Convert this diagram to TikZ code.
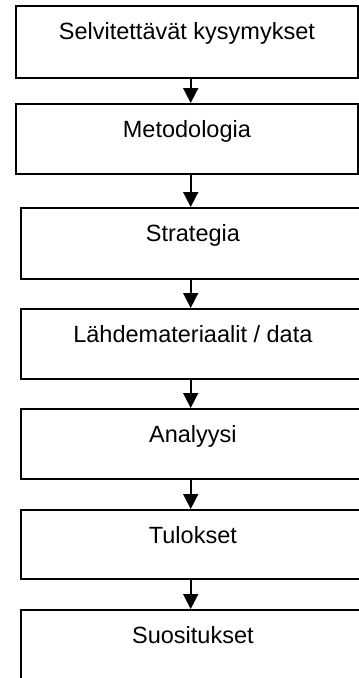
\documentclass[tikz,border=0pt]{standalone}
\usepackage{fontspec}
\setmainfont{Liberation Sans}
\usetikzlibrary{arrows.meta}
\begin{document}
\begin{tikzpicture}[x=1pt,y=-1pt,
  stagebox/.style={draw=black, line width=1.8pt, rectangle, inner sep=0pt,
    anchor=north west, font=\fontsize{23.5}{28}\selectfont, text height=34pt},
  flow/.style={draw=black, line width=1.6pt,
    -{Triangle[length=15pt,width=15pt]}}]
  \useasboundingbox (0,0) rectangle (359,678);
  % process stages, top to bottom
  \node[stagebox, minimum width=342pt, text depth=38pt] (s1) at (15,5) {Selvitettävät kysymykset};
  \node[stagebox, minimum width=342pt, text depth=36pt] (s2) at (15,103) {Metodologia};
  \node[stagebox, minimum width=344pt, text depth=37pt] (s3) at (20,207) {Strategia};
  \node[stagebox, minimum width=344pt, text depth=36pt] (s4) at (20,308) {Lähdemateriaalit / data};
  \node[stagebox, minimum width=344pt, text depth=36pt] (s5) at (20,408) {Analyysi};
  \node[stagebox, minimum width=344pt, text depth=35pt] (s6) at (20,509) {Tulokset};
  \node[stagebox, minimum width=344pt, text depth=50pt] (s7) at (20,609) {Suositukset};
  % connectors run down a common vertical line
  \coordinate (axis) at (190.7,0);
  \draw[flow] (s1.south -| axis) -- (s2.north -| axis);
  \draw[flow] (s2.south -| axis) -- (s3.north -| axis);
  \draw[flow] (s3.south -| axis) -- (s4.north -| axis);
  \draw[flow] (s4.south -| axis) -- (s5.north -| axis);
  \draw[flow] (s5.south -| axis) -- (s6.north -| axis);
  \draw[flow] (s6.south -| axis) -- (s7.north -| axis);
\end{tikzpicture}
\end{document}
